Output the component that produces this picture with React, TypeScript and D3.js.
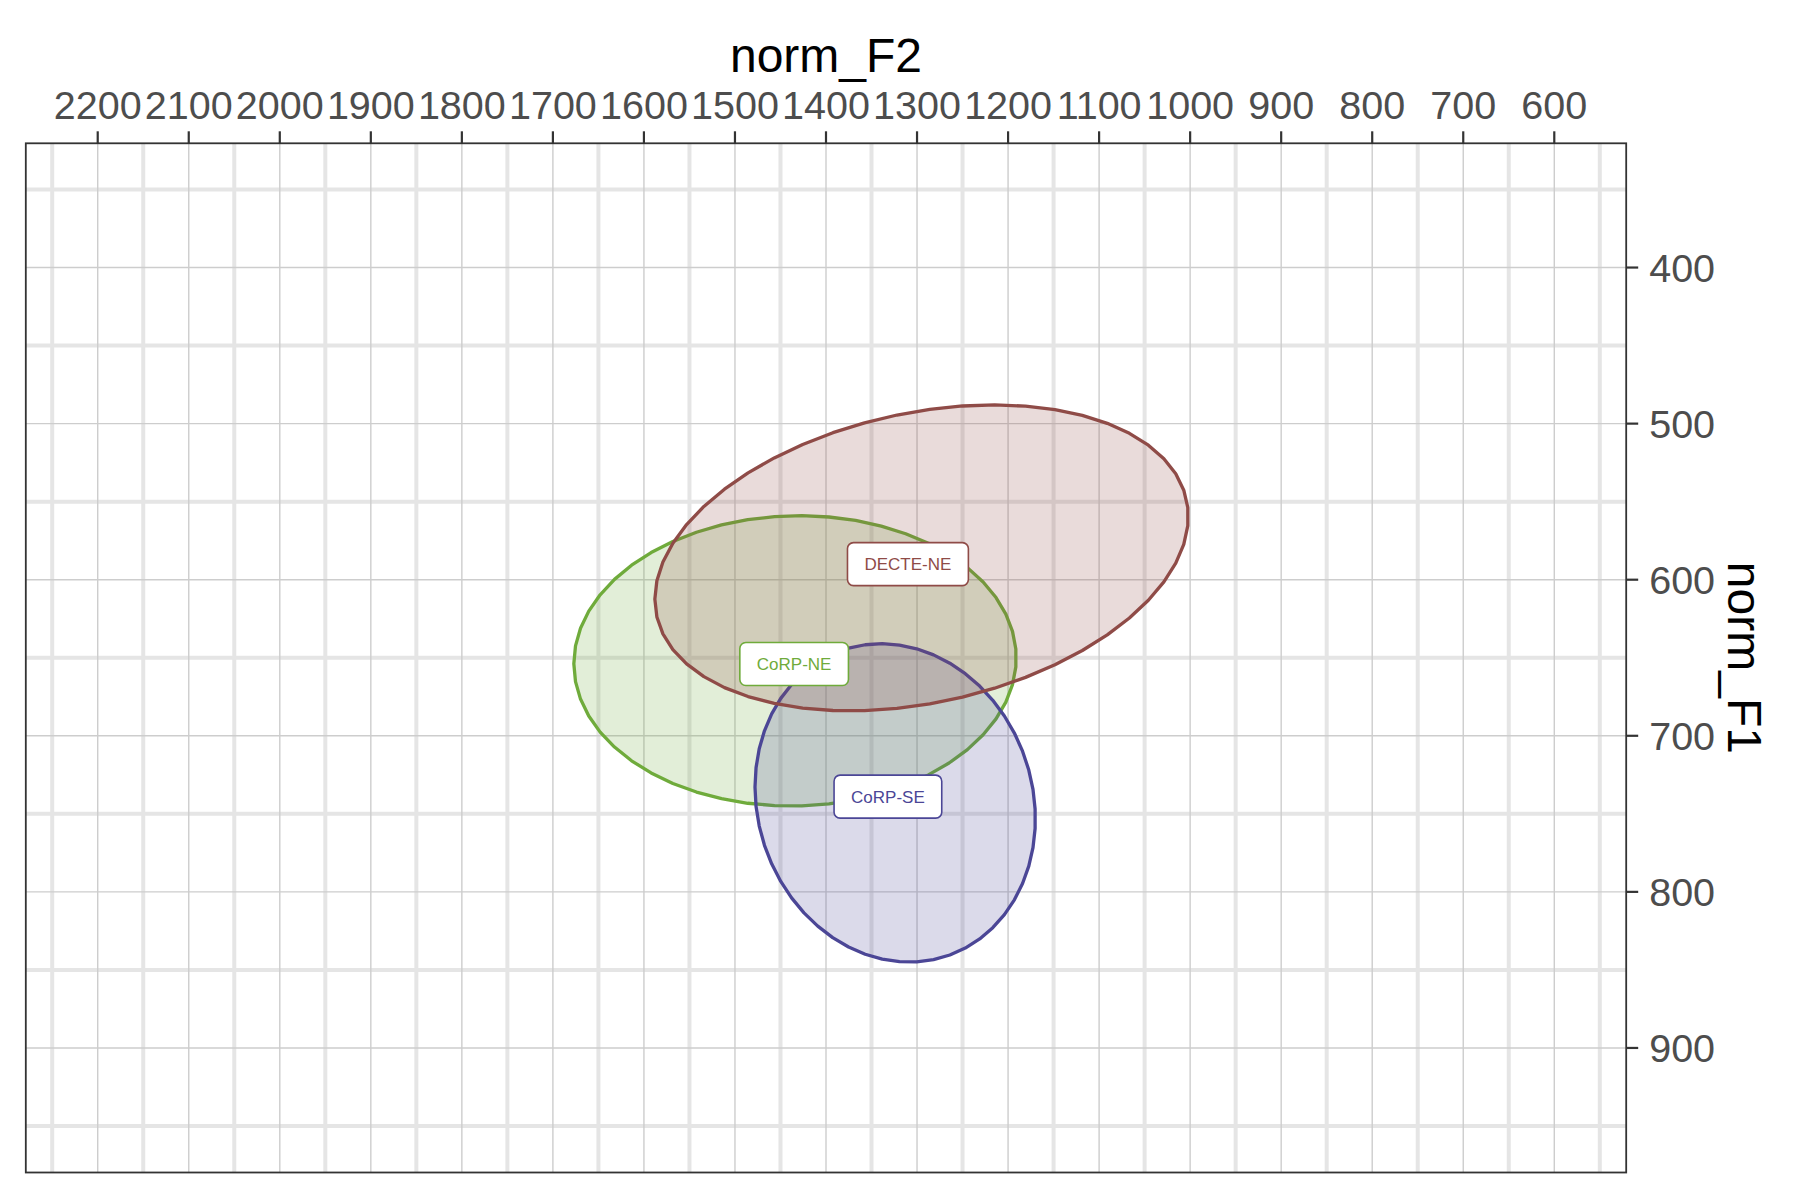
import React, { useRef, useEffect } from "react";
import * as d3 from "d3";

// ellipse groups (stat_ellipse style: centre, half-extent along each axis, correlation)
const groups = ["CoRP-NE", "CoRP-SE", "DECTE-NE"];
const colors = ["#6fab3b", "#4b4696", "#8f4b47"];
const centerF2 = [1434, 1324, 1295];
const centerF1 = [652, 743, 586];
const halfF2 = [243, 154, 293];
const halfF1 = [93, 102, 98];
const corr = [0.02, -0.1, 0.27];

// label positions
const labelF2 = [1435, 1332, 1310];
const labelF1 = [654, 739, 590];

const f2Ticks = [2200, 2100, 2000, 1900, 1800, 1700, 1600, 1500, 1400, 1300, 1200, 1100, 1000, 900, 800, 700, 600];
const f2Minor = [2250, 2150, 2050, 1950, 1850, 1750, 1650, 1550, 1450, 1350, 1250, 1150, 1050, 950, 850, 750, 650, 550];
const f1Ticks = [400, 500, 600, 700, 800, 900];
const f1Minor = [350, 450, 550, 650, 750, 850, 950];

const WIDTH = 1800;
const HEIGHT = 1200;
const panel = { left: 25.8, right: 1626.2, top: 143.3, bottom: 1172.5 };
const FONT = "'Liberation Sans', Arial, Helvetica, sans-serif";

const App = () => {
  const ref = useRef<SVGSVGElement>(null);

  useEffect(() => {
    const svg = d3.select(ref.current);
    svg.selectAll("*").remove();

    const x = d3.scaleLinear().domain([2279, 521]).range([panel.left, panel.right]);
    const y = d3.scaleLinear().domain([320.4, 979.8]).range([panel.top, panel.bottom]);

    svg.append("rect").attr("width", WIDTH).attr("height", HEIGHT).attr("fill", "#fff");

    const grid = svg.append("g");
    // minor grid (thick, light)
    grid
      .selectAll("line.vminor")
      .data(f2Minor)
      .join("line")
      .attr("x1", (d) => x(d))
      .attr("x2", (d) => x(d))
      .attr("y1", panel.top)
      .attr("y2", panel.bottom)
      .attr("stroke", "#e5e5e5")
      .attr("stroke-width", 4);
    grid
      .selectAll("line.hminor")
      .data(f1Minor)
      .join("line")
      .attr("x1", panel.left)
      .attr("x2", panel.right)
      .attr("y1", (d) => y(d))
      .attr("y2", (d) => y(d))
      .attr("stroke", "#e5e5e5")
      .attr("stroke-width", 4);
    // major grid (thin)
    grid
      .selectAll("line.vmajor")
      .data(f2Ticks)
      .join("line")
      .attr("x1", (d) => x(d))
      .attr("x2", (d) => x(d))
      .attr("y1", panel.top)
      .attr("y2", panel.bottom)
      .attr("stroke", "#cdcdcd")
      .attr("stroke-width", 1.4);
    grid
      .selectAll("line.hmajor")
      .data(f1Ticks)
      .join("line")
      .attr("x1", panel.left)
      .attr("x2", panel.right)
      .attr("y1", (d) => y(d))
      .attr("y2", (d) => y(d))
      .attr("stroke", "#cdcdcd")
      .attr("stroke-width", 1.4);

    // ellipses
    const line = d3
      .line<[number, number]>()
      .x((d) => x(d[0]))
      .y((d) => y(d[1]))
      .curve(d3.curveLinearClosed);

    groups.forEach((g, i) => {
      const r = corr[i];
      const pts: [number, number][] = d3.range(51).map((k) => {
        const t = (2 * Math.PI * k) / 51;
        return [
          centerF2[i] + halfF2[i] * Math.cos(t),
          centerF1[i] + halfF1[i] * (r * Math.cos(t) + Math.sqrt(1 - r * r) * Math.sin(t)),
        ];
      });
      svg
        .append("path")
        .attr("d", line(pts))
        .attr("fill", colors[i])
        .attr("fill-opacity", 0.2)
        .attr("stroke", colors[i])
        .attr("stroke-width", 3.3)
        .attr("stroke-linejoin", "round");
    });

    // labels
    groups.forEach((g, i) => {
      const lg = svg
        .append("g")
        .attr("transform", `translate(${x(labelF2[i])},${y(labelF1[i])})`);
      const rect = lg.append("rect");
      const txt = lg
        .append("text")
        .attr("text-anchor", "middle")
        .attr("dy", "0.36em")
        .style("font-family", FONT)
        .style("font-size", "17px")
        .attr("fill", colors[i])
        .text(g);
      const w = (txt.node() as SVGTextElement).getComputedTextLength() + 34;
      const h = 43;
      rect
        .attr("x", -w / 2)
        .attr("y", -h / 2)
        .attr("width", w)
        .attr("height", h)
        .attr("rx", 6)
        .attr("fill", "#fff")
        .attr("stroke", colors[i])
        .attr("stroke-width", 1.6);
    });

    // panel border
    svg
      .append("rect")
      .attr("x", panel.left)
      .attr("y", panel.top)
      .attr("width", panel.right - panel.left)
      .attr("height", panel.bottom - panel.top)
      .attr("fill", "none")
      .attr("stroke", "#333")
      .attr("stroke-width", 1.8);

    // top axis (norm_F2)
    const top = svg.append("g");
    top
      .selectAll("line")
      .data(f2Ticks)
      .join("line")
      .attr("x1", (d) => x(d))
      .attr("x2", (d) => x(d))
      .attr("y1", panel.top)
      .attr("y2", panel.top - 12)
      .attr("stroke", "#333")
      .attr("stroke-width", 2.2);
    top
      .selectAll("text")
      .data(f2Ticks)
      .join("text")
      .attr("x", (d) => x(d))
      .attr("y", 119.3)
      .attr("text-anchor", "middle")
      .style("font-family", FONT)
      .style("font-size", "39.5px")
      .attr("fill", "#4d4d4d")
      .text((d) => d);
    svg
      .append("text")
      .attr("x", (panel.left + panel.right) / 2)
      .attr("y", 71.7)
      .attr("text-anchor", "middle")
      .style("font-family", FONT)
      .style("font-size", "48px")
      .attr("fill", "#000")
      .text("norm_F2");

    // right axis (norm_F1)
    const right = svg.append("g");
    right
      .selectAll("line")
      .data(f1Ticks)
      .join("line")
      .attr("x1", panel.right)
      .attr("x2", panel.right + 12)
      .attr("y1", (d) => y(d))
      .attr("y2", (d) => y(d))
      .attr("stroke", "#333")
      .attr("stroke-width", 2.2);
    right
      .selectAll("text")
      .data(f1Ticks)
      .join("text")
      .attr("x", panel.right + 23)
      .attr("y", (d) => y(d))
      .attr("dy", "0.36em")
      .style("font-family", FONT)
      .style("font-size", "39.5px")
      .attr("fill", "#4d4d4d")
      .text((d) => d);
    svg
      .append("text")
      .attr("transform", `translate(1728,${(panel.top + panel.bottom) / 2}) rotate(90)`)
      .attr("text-anchor", "middle")
      .style("font-family", FONT)
      .style("font-size", "48px")
      .attr("fill", "#000")
      .text("norm_F1");
  }, []);

  return (
    <svg
      ref={ref}
      width={WIDTH}
      height={HEIGHT}
      style={{ position: "absolute", left: 0, top: 0 }}
    />
  );
};

export default App;
